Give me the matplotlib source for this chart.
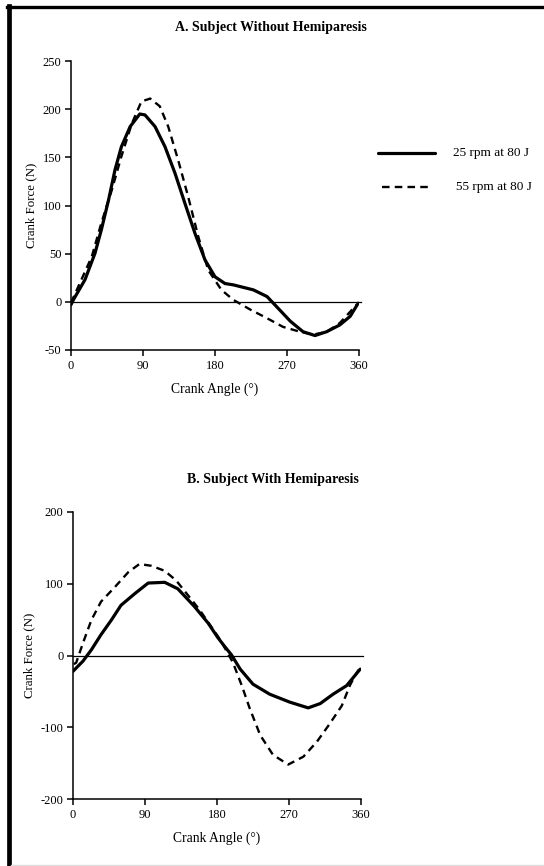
import matplotlib
matplotlib.use("Agg")
import matplotlib.pyplot as plt
from matplotlib.lines import Line2D

plt.rcParams['font.family'] = ['Liberation Serif', 'DejaVu Serif']
plt.rcParams['axes.unicode_minus'] = False

# Panel A: Subject without hemiparesis
a_slow_deg = [0, 2.9, 17.5, 30, 38, 47, 55, 63, 74, 86, 92.5, 105, 117.5, 130, 142.5, 155, 167.5, 180,
              192.5, 203, 228, 245, 257, 274, 290, 305, 319.6, 336, 349, 359]
a_slow_N   = [-3, 2, 23, 50.5, 75, 106, 137, 161, 182, 195, 194, 182, 161, 133.5, 102, 71, 43.5, 26,
              19, 17.6, 12.4, 5.5, -5, -20, -31, -35, -31, -24, -15, -1.4]
a_fast_deg = [0, 26, 38, 51, 63, 76, 88, 99, 111, 121.5, 134, 146.5, 159, 171.5, 188, 203, 224, 245,
              265, 286, 303, 320, 336, 357]
a_fast_N   = [-1, 47, 82, 116, 151, 185, 208, 211, 203, 182, 147, 109, 68, 33, 12.4, 2, -8, -17,
              -26, -31, -34, -31, -22, -3]

# Panel B: Subject with hemiparesis
b_slow_deg = [0, 12.5, 23, 35, 48, 60, 77, 94, 114.6, 131, 152, 169, 181, 190, 198, 209, 225, 246,
              271, 294, 309, 325, 342, 359]
b_slow_N   = [-22, -7.8, 8, 29, 49.5, 70, 86, 101, 102, 93, 68, 45, 25, 12, 1, -19, -40, -54,
              -65, -73, -67, -54, -42, -19]
b_fast_deg = [1, 4, 12.5, 23, 35, 52, 69, 83, 98, 114.6, 129, 158, 184, 200, 211, 221, 234, 250,
              269, 288, 305, 321, 336, 346, 352.5, 357]
b_fast_N   = [-12, -10, 17.5, 49.5, 75, 95, 116, 127.5, 125, 118, 104.5, 64, 22, -10, -42, -74, -111, -138.5,
              -152, -141, -120, -95, -70, -42, -28, -20]

x_ticks = [0, 90, 180, 270, 360]
a_yticks = [-50, 0, 50, 100, 150, 200, 250]
b_yticks = [-200, -100, 0, 100, 200]

series_labels = ["25 rpm at 80 J", "55 rpm at 80 J"]
titles = ["A. Subject Without Hemiparesis", "B. Subject With Hemiparesis"]

W, H = 544, 866
fig = plt.figure(figsize=(W / 100, H / 100), dpi=100)

def style_axes(ax, yticks):
    ax.set_xlim(0, 360)
    ax.set_ylim(yticks[0], yticks[-1])
    ax.set_xticks(x_ticks)
    ax.set_yticks(yticks)
    for s in ['top', 'right']:
        ax.spines[s].set_visible(False)
    for s in ['left', 'bottom']:
        ax.spines[s].set_linewidth(1.1)
    ax.tick_params(direction='out', length=4, width=1.1, labelsize=9, pad=3)
    ax.axhline(0, xmin=0, xmax=362 / 360, color='black', lw=0.9, clip_on=False)
    ax.set_xlabel("Crank Angle (°)", fontsize=9.8, labelpad=8)
    ax.set_ylabel("Crank Force (N)", fontsize=9.3, labelpad=4)

solid_kw = dict(color='black', lw=2.3, solid_joinstyle='round', solid_capstyle='round')
dash_kw = dict(color='black', lw=1.7, linestyle=(0, (3.2, 2.2)))

axA = fig.add_axes([71 / W, 1 - 350 / H, (359 - 71) / W, (350 - 61) / H])
axA.plot(a_slow_deg, a_slow_N, **solid_kw)
axA.plot(a_fast_deg, a_fast_N, **dash_kw)
style_axes(axA, a_yticks)

axB = fig.add_axes([73 / W, 1 - 799 / H, (361 - 73) / W, (799 - 512) / H])
axB.plot(b_slow_deg, b_slow_N, **solid_kw)
axB.plot(b_fast_deg, b_fast_N, **dash_kw)
style_axes(axB, b_yticks)

fig.text(271 / W, 1 - 28 / H, titles[0], ha='center', va='center', fontsize=10, fontweight='bold')
fig.text(273 / W, 1 - 480 / H, titles[1], ha='center', va='center', fontsize=10, fontweight='bold')

# Legend drawn at figure level
fig.add_artist(Line2D([378 / W, 435 / W], [1 - 153 / H, 1 - 153 / H], transform=fig.transFigure, **solid_kw))
fig.add_artist(Line2D([382 / W, 433 / W], [1 - 187 / H, 1 - 187 / H], transform=fig.transFigure, **dash_kw))
fig.text(453 / W, 1 - 153 / H, series_labels[0], ha='left', va='center', fontsize=9.5)
fig.text(456 / W, 1 - 187 / H, series_labels[1], ha='left', va='center', fontsize=9.5)

# Page frame: thick left and top rules, faint bottom rule
fig.add_artist(Line2D([9 / W, 9 / W], [0, 1 - 6 / H], transform=fig.transFigure, color='black', lw=3.4))
fig.add_artist(Line2D([7 / W, 543 / W], [1 - 6.5 / H, 1 - 6.5 / H], transform=fig.transFigure, color='black', lw=2.4))
fig.add_artist(Line2D([11 / W, 1], [0.6 / H, 0.6 / H], transform=fig.transFigure, color='#dddddd', lw=1))

fig.savefig("out.png", dpi=100)
